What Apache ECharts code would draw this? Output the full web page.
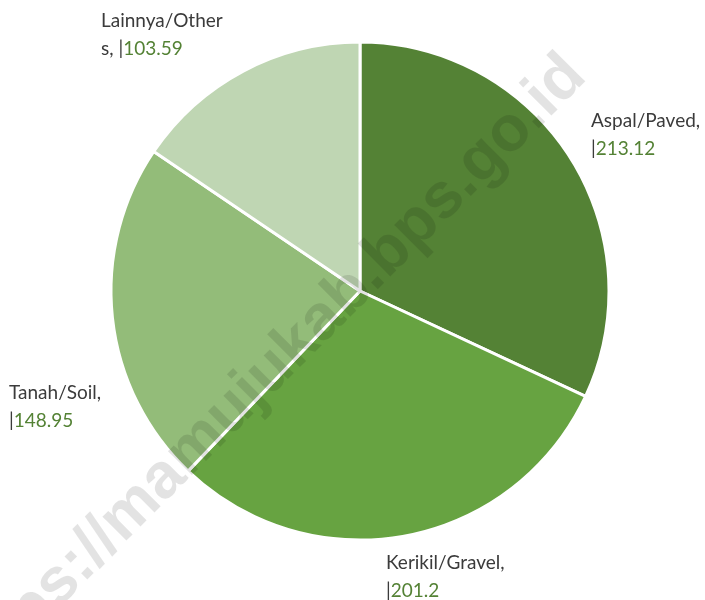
<!DOCTYPE html>
<html>
<head>
<meta charset="utf-8">
<script src="https://cdn.jsdelivr.net/npm/echarts@6/dist/echarts.min.js"></script>
<style>
  html, body { margin: 0; padding: 0; background: #fff; }
  #pie { width: 705px; height: 600px; }
</style>
</head>
<body>
<div id="pie"></div>
<script>
// jenis permukaan jalan (km)
var categories = ['Aspal/Paved', 'Kerikil/Gravel', 'Tanah/Soil', 'Lainnya/Others'];
var values = [213.12, 201.2, 148.95, 103.59];
var colors = ['#548235', '#67a341', '#93bc79', '#bfd6b3'];

// posisi label (kiri-atas), kira-kira seperti di gambar
var labelPos = [[591, 107], [386, 549], [9, 379], [101, 7]];

var chart = echarts.init(document.getElementById('pie'));

var seriesData = categories.map(function (name, i) {
        return { name: name, value: values[i], itemStyle: { color: colors[i] } };
});

var option = {
        backgroundColor: '#fff',
        animation: false,
        series: [
            {
                    type: 'pie',
                    center: [360, 291],
                    radius: 249,
                    startAngle: 90,
                    clockwise: true,
                    itemStyle: { borderColor: '#fff', borderWidth: 3 },
                    label: {
                            show: true,
                            position: 'outside',
                            overflow: 'none',
                            edgeDistance: 0,
                            fontFamily: 'Lato',
                            fontSize: 19,
                            lineHeight: 28,
                            color: '#3b3b3b',
                            formatter: function (p) {
                                    var v = '{s||}{v|' + p.value + '}';
                                    // label terakhir terpotong seperti di Excel
                                    if (p.dataIndex === categories.length - 1) {
                                            return p.name.slice(0, 13) + '\n' + p.name.slice(13) + ', ' + v;
                                    }
                                    return p.name + ',\n' + v;
                            },
                            rich: {
                                    s: { color: '#3b3b3b', fontFamily: 'Lato', fontSize: 19, lineHeight: 28 },
                                    v: { color: '#548235', fontFamily: 'Lato', fontSize: 19, lineHeight: 28 }
                            }
                    },
                    labelLine: { show: false },
                    labelLayout: function (params) {
                            var pos = labelPos[params.dataIndex];
                            return { x: pos[0], y: pos[1], align: 'left', verticalAlign: 'top' };
                    },
                    emphasis: { disabled: true },
                    data: seriesData
            }
        ],
        graphic: [
            {
                    type: 'text',
                    z: 100,
                    x: 576,
                    y: 66,
                    rotation: Math.PI / 4,
                    style: {
                            text: 'https://mamujukab.bps.go.id',
                            font: 'bold 64px "Liberation Sans", Arial, sans-serif',
                            fill: 'rgba(0,0,0,0.11)',
                            textAlign: 'right',
                            textVerticalAlign: 'middle'
                    }
            }
        ]
};

chart.setOption(option);
</script>
</body>
</html>
